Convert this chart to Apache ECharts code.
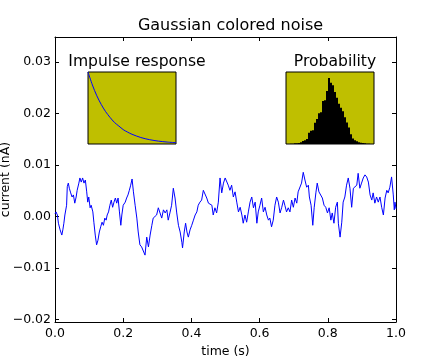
<!DOCTYPE html>
<html>
<head>
<meta charset="utf-8">
<script src="https://cdn.jsdelivr.net/npm/echarts@6/dist/echarts.min.js"></script>
<style>html,body{margin:0;padding:0;background:#fff;}#c{width:440px;height:360px;}</style>
</head>
<body>
<div id="c"></div>
<script>
// Main trace: time (s) and current (nA)
const time = [
  0.000, 0.003, 0.007, 0.010, 0.015, 0.020, 0.023, 0.026, 0.029, 0.034,
  0.036, 0.039, 0.042, 0.046, 0.050, 0.054, 0.058, 0.062, 0.065, 0.070,
  0.073, 0.077, 0.081, 0.085, 0.089, 0.093, 0.096, 0.099, 0.103, 0.106,
  0.111, 0.114, 0.118, 0.122, 0.126, 0.130, 0.134, 0.138, 0.142, 0.146,
  0.150, 0.153, 0.157, 0.161, 0.165, 0.169, 0.173, 0.177, 0.181, 0.185,
  0.189, 0.193, 0.196, 0.200, 0.206, 0.210, 0.214, 0.218, 0.222, 0.226,
  0.230,
  0.235, 0.240, 0.244, 0.249, 0.254, 0.259, 0.264, 0.269, 0.274, 0.279,
  0.284, 0.288, 0.293, 0.298, 0.303, 0.308, 0.313, 0.318, 0.323, 0.328,
  0.332, 0.337, 0.342, 0.347, 0.352, 0.357, 0.362, 0.367, 0.372, 0.374,
  0.379, 0.383, 0.387, 0.391, 0.396, 0.401, 0.406, 0.411, 0.416, 0.420,
  0.425, 0.430, 0.435, 0.440, 0.445, 0.450, 0.455, 0.460, 0.464, 0.469,
  0.474, 0.479, 0.484,
  0.489, 0.494, 0.499, 0.504, 0.508, 0.513, 0.518, 0.523, 0.528, 0.533,
  0.538, 0.543, 0.548, 0.552, 0.557, 0.562, 0.567, 0.572, 0.577, 0.582,
  0.587, 0.592, 0.596, 0.601, 0.606, 0.611, 0.616, 0.621, 0.626, 0.630,
  0.635, 0.640, 0.645, 0.650, 0.655, 0.660, 0.665, 0.670, 0.674, 0.679,
  0.684, 0.689, 0.694, 0.699, 0.704, 0.709, 0.713, 0.718, 0.723, 0.728,
  0.733, 0.738, 0.743, 0.746, 0.751, 0.756, 0.760, 0.765, 0.769, 0.774,
  0.779, 0.784, 0.789, 0.794, 0.799, 0.804, 0.809, 0.813, 0.818, 0.823,
  0.828, 0.831, 0.836, 0.841, 0.845, 0.850, 0.855, 0.860, 0.865, 0.870,
  0.875, 0.880, 0.885, 0.889, 0.894, 0.899, 0.904, 0.909, 0.914, 0.919,
  0.924, 0.929, 0.933, 0.938, 0.943, 0.948, 0.953, 0.958, 0.963, 0.968,
  0.973, 0.977, 0.982, 0.987, 0.992, 0.995, 0.997, 1.000
];
const current = [
  0.0005, 0.0009, 0.0003, -0.0013, -0.0026, -0.0036, -0.0026, -0.0013, 0.0003, 0.0022,
  0.0058, 0.0065, 0.0055, 0.0046, 0.0038, 0.0042, 0.0026, 0.0038, 0.0051, 0.0065,
  0.0075, 0.0067, 0.0075, 0.0065, 0.0071, 0.0048, 0.0028, 0.0038, 0.0017, 0.0022,
  0.0009, -0.0011, -0.0036, -0.0055, -0.0046, -0.0030, -0.0020, -0.0011, -0.0017, -0.0003,
  -0.0007, 0.0003, 0.0009, 0.0022, 0.0032, 0.0018, 0.0028, 0.0036, 0.0026, 0.0036,
  0.0009, -0.0017, 0.0003, 0.0022, 0.0028, 0.0036, 0.0042, 0.0051, 0.0061, 0.0073,
  0.0048,
  0.0022, -0.0003, -0.0030, -0.0055, -0.0059, -0.0061, -0.0075, -0.0040, -0.0059, -0.0036,
  -0.0017, -0.0003, -0.0001, 0.0003, 0.0017, 0.0018, -0.0003, 0.0013, 0.0007, 0.0013,
  -0.0007, 0.0007, 0.0022, 0.0055, 0.0036, 0.0007, -0.0017, -0.0030, -0.0050, -0.0061,
  -0.0030, -0.0013, -0.0030, -0.0040, -0.0026, -0.0017, -0.0007, 0.0003, 0.0009, 0.0022,
  0.0028, 0.0032, 0.0051, 0.0048, 0.0036, 0.0026, 0.0028, 0.0022, 0.0003, 0.0017,
  0.0007, 0.0028, 0.0075,
  0.0046, 0.0065, 0.0075, 0.0077, 0.0061, 0.0051, 0.0061, 0.0038, 0.0048, 0.0028,
  0.0009, 0.0018, 0.0003, -0.0013, 0.0003, -0.0011, 0.0009, 0.0028, 0.0038, 0.0017,
  0.0028, -0.0013, 0.0009, 0.0022, 0.0036, 0.0009, 0.0018, 0.0003, -0.0007, -0.0003,
  -0.0020, -0.0007, 0.0022, 0.0038, 0.0028, 0.0007, 0.0018, 0.0032, 0.0022, 0.0009,
  0.0017, 0.0009, 0.0032, 0.0018, 0.0036, 0.0026, 0.0048, 0.0051, 0.0065, 0.0086,
  0.0071, 0.0057, 0.0061, 0.0038, 0.0022, -0.0017, 0.0017, 0.0046, 0.0065, 0.0048,
  0.0051, 0.0036, 0.0022, 0.0018, 0.0007, 0.0017, -0.0007, 0.0007, -0.0013, 0.0018,
  0.0028, -0.0013, -0.0040, -0.0011, 0.0028, 0.0038, 0.0061, 0.0075, 0.0055, 0.0018,
  0.0055, 0.0057, 0.0061, 0.0084, 0.0055, 0.0065, 0.0075, 0.0081, 0.0077, 0.0067,
  0.0042, 0.0032, 0.0046, 0.0026, 0.0038, 0.0028, 0.0038, 0.0018, 0.0003, 0.0036,
  0.0051, 0.0046, 0.0057, 0.0077, 0.0042, 0.0013, 0.0028, 0.0015
];

// Impulse response inset
const impulseTime = [0, 0.01, 0.02, 0.03, 0.04, 0.05, 0.06, 0.07, 0.08, 0.09, 0.10, 0.12, 0.14, 0.16, 0.18, 0.20];
const impulseResp = [1.0, 0.82, 0.67, 0.55, 0.45, 0.37, 0.30, 0.25, 0.20, 0.165, 0.135, 0.09, 0.06, 0.04, 0.027, 0.018];

// Probability histogram inset (relative density per bin)
const histDensity = [
  0, 0, 0.005, 0.005, 0.01, 0.01, 0.014, 0.023, 0.042, 0.052,
  0.07, 0.155, 0.183, 0.19, 0.296, 0.347, 0.427, 0.44, 0.596, 0.606,
  0.737, 0.915, 0.85, 0.817, 0.723, 0.643, 0.559, 0.502, 0.455, 0.371,
  0.30, 0.23, 0.136, 0.075, 0.052, 0.038, 0.023, 0.019, 0.014, 0.009,
  0.005, 0.005, 0, 0
];

const xTicks = [0.0, 0.2, 0.4, 0.6, 0.8, 1.0];
const yTicks = [-0.02, -0.01, 0.00, 0.01, 0.02, 0.03];

const FONT = 'DejaVu Sans';
const chart = echarts.init(document.getElementById('c'), null, {renderer: 'canvas'});

const fmtY = v => (v < -1e-12 ? '\u2212' : '') + Math.abs(v).toFixed(2);
const fmtX = v => v.toFixed(1);

function mainX(pos, showLabels) {
  return {
    type: 'value', gridIndex: 0, position: pos, min: 0, max: 1,
    axisLine: {show: true, onZero: false, lineStyle: {color: '#000', width: 1}},
    axisTick: {show: true, inside: true, length: 4, customValues: xTicks, lineStyle: {color: '#000'}},
    axisLabel: {show: showLabels, customValues: xTicks, formatter: fmtX, color: '#000', fontFamily: FONT, fontSize: 12.5, margin: 5},
    splitLine: {show: false},
    name: showLabels ? 'time (s)' : '', nameLocation: 'middle', nameGap: 23, nameMoveOverlap: false,
    nameTextStyle: {color: '#000', fontFamily: FONT, fontSize: 12.5}
  };
}
function mainY(pos, showLabels) {
  return {
    type: 'value', gridIndex: 0, position: pos, min: -0.0205, max: 0.0349,
    axisLine: {show: true, onZero: false, lineStyle: {color: '#000', width: 1}},
    axisTick: {show: true, inside: true, length: 4, customValues: yTicks, lineStyle: {color: '#000'}},
    axisLabel: {show: showLabels, customValues: yTicks, formatter: fmtY, color: '#000', fontFamily: FONT, fontSize: 12.5, margin: 4},
    splitLine: {show: false},
    name: showLabels ? 'current (nA)' : '', nameLocation: 'middle', nameGap: 43, nameMoveOverlap: false,
    nameTextStyle: {color: '#000', fontFamily: FONT, fontSize: 12.5}
  };
}

const option = {
  animation: false,
  backgroundColor: '#fff',
  title: [
    {text: 'Gaussian colored noise', left: 225.5, top: 13, textAlign: 'center',
     textStyle: {color: '#000', fontFamily: FONT, fontSize: 16, fontWeight: 'normal'}},
    {text: 'Impulse response', left: 132, top: 49, textAlign: 'center',
     textStyle: {color: '#000', fontFamily: FONT, fontSize: 15.6, fontWeight: 'normal'}},
    {text: 'Probability', left: 330, top: 49, textAlign: 'center',
     textStyle: {color: '#000', fontFamily: FONT, fontSize: 15.6, fontWeight: 'normal'}}
  ],
  grid: [
    {left: 55, top: 37, width: 341, height: 285, containLabel: false, outerBoundsMode: 'none'},
    {left: 88, top: 72, width: 88, height: 72, show: true, backgroundColor: '#bfbf00', borderColor: '#000', borderWidth: 1, z: 5, outerBoundsMode: 'none'},
    {left: 286, top: 72, width: 88, height: 72, show: true, backgroundColor: '#bfbf00', borderColor: '#000', borderWidth: 1, z: 5, outerBoundsMode: 'none'}
  ],
  xAxis: [
    mainX('bottom', true),
    mainX('top', false),
    {type: 'value', gridIndex: 1, min: 0, max: 0.2, show: false},
    {type: 'category', gridIndex: 2, data: histDensity.map((_, i) => i), show: false, boundaryGap: true}
  ],
  yAxis: [
    mainY('left', true),
    mainY('right', false),
    {type: 'value', gridIndex: 1, min: 0, max: 1, show: false},
    {type: 'value', gridIndex: 2, min: 0, max: 1, show: false}
  ],
  series: [
    {
      type: 'line', xAxisIndex: 0, yAxisIndex: 0,
      data: time.map((t, i) => [t, current[i]]),
      showSymbol: false, symbol: 'none',
      lineStyle: {color: '#0000ff', width: 1},
      z: 3
    },
    {
      type: 'line', xAxisIndex: 2, yAxisIndex: 2,
      data: impulseTime.map((t, i) => [t, impulseResp[i]]),
      showSymbol: false, symbol: 'none', smooth: 0.3,
      lineStyle: {color: '#0000ff', width: 1},
      z: 6
    },
    {
      type: 'bar', xAxisIndex: 3, yAxisIndex: 3,
      data: histDensity,
      barCategoryGap: '0%', barWidth: '100%',
      itemStyle: {color: '#000'},
      z: 6
    }
  ]
};
chart.setOption(option);
</script>
</body>
</html>
